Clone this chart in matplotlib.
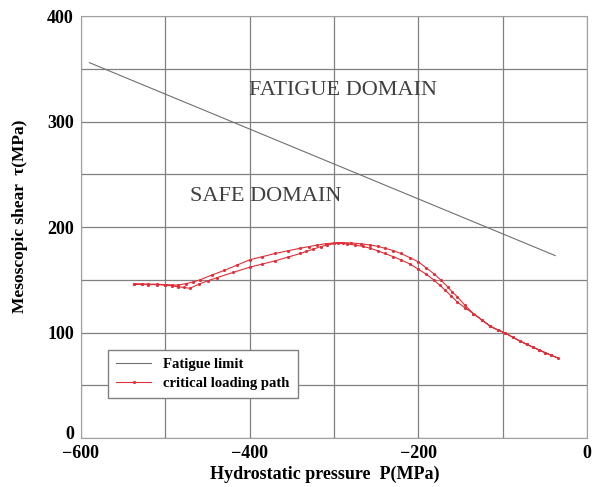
import matplotlib.pyplot as plt
from matplotlib.transforms import ScaledTranslation

plt.rcParams['font.family'] = ['Liberation Serif', 'DejaVu Serif']

# fatigue limit line
fat_p = [-590, -38]
fat_tau = [356, 173]

# critical loading path (out along one branch, back along the other)
path_p = [-537, -528, -520, -510, -500, -492, -485, -475, -467, -459, -445, -430,
          -415, -400, -385, -370, -355, -340, -330, -320, -310, -300, -290, -280,
          -268, -257, -248, -240, -230, -221, -210, -200, -191, -182, -173, -165,
          -160, -154, -145, -135, -125, -115, -106, -97, -88, -80, -72, -64, -57,
          -50, -43, -35,
          -43, -50, -57, -64, -72, -80, -88, -97, -106, -115, -125, -135, -145,
          -154, -161, -168, -175, -182, -191, -200, -210, -221, -230, -240, -248,
          -257, -266, -275, -285, -295, -308, -316, -325, -333, -340, -355, -370,
          -385, -400, -420, -439, -450, -460, -471, -478, -485, -492, -500, -510,
          -520, -528, -537]
path_tau = [146, 146, 146, 145.8, 145.5, 145.2, 145, 146.5, 148, 150, 154.5, 159,
            164, 169, 172, 175, 177.5, 180, 181.5, 183, 184.3, 185, 185.2, 185,
            184.2, 183, 181.8, 180, 177.8, 175, 171, 167, 161.5, 156, 149.5, 143,
            138.5, 134, 126, 118, 112, 106, 102.5, 99.5, 95.5, 92, 89, 86, 83.5,
            81, 78.5, 76,
            78.5, 81, 83.5, 86, 89, 92, 95.5, 99.5, 102.5, 106, 112, 118, 123.5,
            129, 134.5, 140, 145, 150, 155.5, 160, 165, 169, 172, 175, 177.5,
            180, 181.8, 183, 184.2, 185, 183, 181.5, 179, 177, 175, 171.5, 168,
            165, 162, 157, 152, 149, 146, 142, 142.8, 143.5, 144.3, 145, 145.5,
            145.5, 145.8, 146]

xticks = [-600, -400, -200, 0]
xtick_labels = ['\u2212600', '\u2212400', '\u2212200', '0']
yticks = [0, 100, 200, 300, 400]

fig = plt.figure(figsize=(5.95, 4.87), dpi=100)
ax = fig.add_axes([0.136, 0.1006, 0.851, 0.866])

ax.plot(fat_p, fat_tau, color='#707070', lw=0.8, label='Fatigue limit')
ax.plot(path_p, path_tau, color='#e0303a', lw=0.8, marker='.', markersize=2.5,
        label='critical loading path')

ax.set_xlim(-600, 0)
ax.set_ylim(0, 400)
ax.set_xticks(range(-600, 1, 100), minor=True)
ax.set_yticks(range(0, 401, 50), minor=True)
ax.set_xticks(xticks)
ax.set_yticks(yticks)
ax.set_xticklabels(xtick_labels)
ax.grid(True, which='both', color='#808080', lw=0.9)
ax.set_axisbelow(True)
ax.tick_params(which='both', length=0, labelsize=13)
ax.tick_params(axis='x', pad=5)
ax.tick_params(axis='y', pad=5)
for lab in ax.get_xticklabels() + ax.get_yticklabels():
    lab.set_fontweight('bold')
# lift the y "0" a little so it clears the "-600" below it
zero = ax.get_yticklabels()[0]
zero.set_transform(zero.get_transform() + ScaledTranslation(0, 4 / 72, fig.dpi_scale_trans))
for s in ax.spines.values():
    s.set_color('#a0a0a0')

ax.set_xlabel('Hydrostatic pressure  P(MPa)', fontsize=13, fontweight='bold')
ax.xaxis.set_label_coords(0.482, -0.066)
ax.set_ylabel('Mesoscopic shear  \u03c4(MPa)', fontsize=12.5, fontweight='bold')
ax.yaxis.set_label_coords(-0.104, 0.526)

ax.text(-290, 330, 'FATIGUE DOMAIN', fontsize=16, color='#404040', ha='center', va='center')
ax.text(-381, 229, 'SAFE DOMAIN', fontsize=16, color='#404040', ha='center', va='center')

leg = ax.legend(loc='lower left', bbox_to_anchor=(0.04, 0.078), fancybox=False,
                framealpha=1, edgecolor='#808080', prop={'weight': 'bold', 'size': 10.5},
                handlelength=2.4, borderpad=0.55, labelspacing=0.35)

fig.savefig('out.png', dpi=100)
